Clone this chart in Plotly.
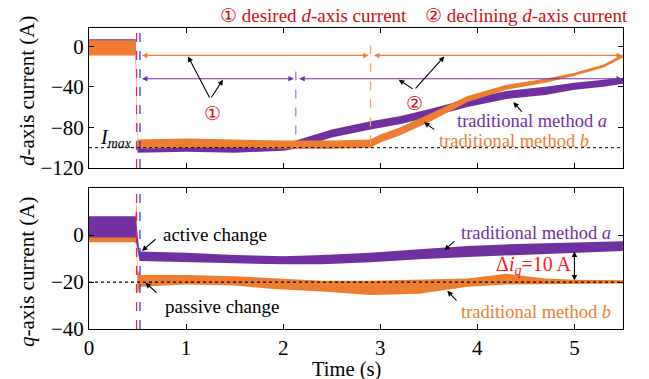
import plotly.graph_objects as go
from plotly.subplots import make_subplots

# ---------------- data ----------------
# d-axis current, traditional method a (purple) band: time, upper, lower
t_d_a = [0, 0.48, 0.50, 1.0, 1.5, 2.0, 2.13, 2.5, 2.9, 3.2, 3.5, 3.9, 4.3, 4.7, 5.0, 5.3, 5.5]
d_a_hi = [7, 7, -99, -98, -98, -96, -93, -82, -74, -69, -62, -52, -44, -40, -36, -33, -31]
d_a_lo = [-7, -7, -105, -104, -105, -103, -101, -90, -82, -77, -70, -60, -52, -48, -43, -40, -37]

# d-axis current, traditional method b (orange)
t_d_b = [0, 0.48, 0.50, 1.0, 1.5, 2.0, 2.5, 2.9, 3.0, 3.2, 3.5, 3.9, 4.3, 4.7, 5.0, 5.3, 5.5]
d_b_hi = [6, 6, -92, -91, -92, -93, -93, -92, -87, -80, -67, -49, -38, -32, -26, -18, -8]
d_b_lo = [-9, -9, -101, -100, -100, -101, -101, -100, -95, -88, -75, -55, -43, -36, -29, -21, -11]

# q-axis current, traditional method a (purple)
t_q_a = [0, 0.48, 0.52, 1.0, 1.5, 2.0, 2.4, 2.9, 3.4, 3.9, 4.4, 5.0, 5.5]
q_a_hi = [8, 8, -7, -7.5, -8.5, -9, -8.5, -7.5, -6, -4.7, -3.8, -3, -2.6]
q_a_lo = [-1, -1, -11, -11.5, -12, -12.4, -12.4, -11.6, -10.3, -9.3, -8.5, -7.5, -6.8]

# q-axis current, traditional method b (orange)
t_q_b = [0, 0.47, 0.49, 0.50, 0.53, 1.0, 1.5, 1.9, 2.4, 2.9, 3.4, 3.9, 4.3, 4.7, 5.0, 5.5]
q_b_hi = [5, 5, 14, -15, -17, -17, -17.5, -18.5, -19.5, -19.5, -19, -18.5, -16.5, -18.5, -19, -19.2]
q_b_lo = [-3, -3, -4, -25, -22, -21, -21.5, -23, -24, -25.5, -25, -22, -21, -21, -20.8, -20.6]

d_ticks = [0, -40, -80, -120]
q_ticks = [0, -20, -40]
t_ticks = [0, 1, 2, 3, 4, 5]

I_max = -100
iq_ref = -20
t_red = 0.49
t_blue = 0.525
t_a_switch = 2.13
t_b_switch = 2.9
y_b_arrow = -9
y_a_arrow = -32

PURPLE = "#7030a0"
ORANGE = "#ed7d31"
DRED = "#cc1010"
FONT = "Times New Roman, Liberation Serif, DejaVu Serif, serif"

# page body has an 8px margin: shrink the figure and offset margins accordingly
OFF = 8
W, H = 649 - OFF, 379 - OFF
ML, MR, MT, MB = 89 - OFF, 26, 28 - OFF, 50
PW, PH = W - ML - MR, H - MT - MB

fig = make_subplots(rows=2, cols=1, shared_xaxes=False, vertical_spacing=0.067)


def band(t, hi, lo, color, row):
    fig.add_trace(go.Scatter(x=list(t) + list(t[::-1]), y=list(hi) + list(lo[::-1]),
                             fill="toself", fillcolor=color, mode="lines",
                             line=dict(color=color, width=0), hoverinfo="skip",
                             showlegend=False), row=row, col=1)


band(t_d_a, d_a_hi, d_a_lo, PURPLE, 1)
band(t_d_b, d_b_hi, d_b_lo, ORANGE, 1)
band(t_q_b, q_b_hi, q_b_lo, ORANGE, 2)
band(t_q_a, q_a_hi, q_a_lo, PURPLE, 2)

axis_common = dict(showline=True, linecolor="black", linewidth=1, mirror="ticks",
                   ticks="inside", ticklen=5, tickcolor="black", showgrid=False,
                   zeroline=False, tickfont=dict(family=FONT, size=21, color="black"))

fig.update_xaxes(range=[0, 5.5], tickvals=t_ticks, **axis_common)
fig.update_xaxes(showticklabels=False, row=1, col=1)
fig.update_yaxes(**axis_common)
fig.update_yaxes(range=[-120, 18], tickvals=d_ticks, row=1, col=1)
fig.update_yaxes(range=[-40, 20], tickvals=q_ticks, row=2, col=1)

fig.update_layout(
    width=W, height=H, margin=dict(l=ML, r=MR, t=MT, b=MB, autoexpand=False),
    plot_bgcolor="white", paper_bgcolor="white", showlegend=False,
    font=dict(family=FONT, size=19, color="black"),
)
fig.update_layout(yaxis=dict(domain=[0.535, 1.0]), yaxis2=dict(domain=[0.0, 0.468]))

shapes = []
for yr in ["y domain", "y2 domain"]:
    xr = "x" if yr == "y domain" else "x2"
    shapes.append(dict(type="line", xref=xr, yref=yr, x0=t_red, x1=t_red, y0=0, y1=1,
                       line=dict(color="#ff2020", width=1.3, dash="dash")))
    shapes.append(dict(type="line", xref=xr, yref=yr, x0=t_blue, x1=t_blue, y0=0, y1=1,
                       line=dict(color="#1f3fff", width=1.3, dash="dash")))
shapes.append(dict(type="line", xref="x domain", yref="y", x0=0, x1=1, y0=I_max, y1=I_max,
                   line=dict(color="black", width=1, dash="dot")))
shapes.append(dict(type="line", xref="x2 domain", yref="y2", x0=0, x1=1, y0=iq_ref, y1=iq_ref,
                   line=dict(color="black", width=1.2, dash="dot")))
shapes.append(dict(type="line", xref="x", yref="y", x0=t_b_switch, x1=t_b_switch, y0=1, y1=-100,
                   line=dict(color="#f4a06a", width=1.3, dash="dash")))
shapes.append(dict(type="line", xref="x", yref="y", x0=t_a_switch, x1=t_a_switch, y0=-25, y1=-92,
                   line=dict(color="#a57fd0", width=1.3, dash="dash")))
fig.update_layout(shapes=shapes)

ann = []


def arrow(x, y, ax, ay, color="black", both=False, xr="x", yr="y", width=1.1, size=1.0):
    ann.append(dict(x=x, y=y, ax=ax, ay=ay, xref=xr, yref=yr, axref=xr, ayref=yr,
                    text="", showarrow=True, arrowhead=2, arrowsize=size, arrowwidth=width,
                    arrowcolor=color, arrowside="end+start" if both else "end"))


def text(x, y, s, color="black", xr="x", yr="y", size=19, xanchor="center"):
    ann.append(dict(x=x, y=y, xref=xr, yref=yr, text=s, showarrow=False,
                    font=dict(family=FONT, size=size, color=color), xanchor=xanchor,
                    yanchor="middle"))


arrow(t_b_switch - 0.02, y_b_arrow, 0.53, y_b_arrow, ORANGE, both=True)
arrow(5.49, y_b_arrow, t_b_switch + 0.02, y_b_arrow, ORANGE, both=True)
arrow(t_a_switch - 0.02, y_a_arrow, 0.53, y_a_arrow, PURPLE, both=True)
arrow(5.49, y_a_arrow, t_a_switch + 0.02, y_a_arrow, PURPLE, both=True)

arrow(1.02, -10, 1.25, -52)
arrow(1.38, -33, 1.25, -52)
text(1.27, -66, "①", DRED, size=19)
arrow(3.66, -10, 3.35, -43)
arrow(3.19, -33, 3.35, -43)
text(3.35, -56, "②", DRED, size=19)

text(0.46, -91, "<i>I</i><sub><i>max</i></sub>", xanchor="right", size=20)
text(4.56, -74, "traditional method <i>a</i>", PURPLE, size=18.5)
text(4.38, -93.5, "traditional method <i>b</i>", ORANGE, size=18.5)
arrow(4.37, -55, 4.47, -66)
arrow(3.45, -75, 3.57, -83)

text(1.3, 0.3, "active change", xr="x2", yr="y2")
arrow(0.545, -6.8, 0.70, -1.2, xr="x2", yr="y2")
text(1.37, -30.5, "passive change", xr="x2", yr="y2")
arrow(0.58, -20.3, 0.71, -25, xr="x2", yr="y2")
text(4.6, 1.0, "traditional method <i>a</i>", PURPLE, xr="x2", yr="y2", size=18.5)
arrow(3.66, -6.5, 3.78, -2, xr="x2", yr="y2")
text(4.6, -32.7, "traditional method <i>b</i>", ORANGE, xr="x2", yr="y2", size=18.5)
arrow(3.69, -23.7, 3.80, -28.6, xr="x2", yr="y2")
text(4.58, -12.9, "Δ<i>i</i><sub><i>q</i></sub>=10 A", "#ff1a1a", xr="x2", yr="y2", size=20)
arrow(5.0, -19.3, 5.0, -6.3, both=True, xr="x2", yr="y2")


# helpers: target-picture pixel -> paper coordinates
def px_x(px):
    return (px - 89) / PW


def px_y(py):
    return (329 - py) / PH


def ptext(px, py, s, size, color="black", xanchor="center", angle=0):
    ann.append(dict(x=px_x(px), y=px_y(py), xref="paper", yref="paper", showarrow=False,
                    text=s, xanchor=xanchor, yanchor="middle", textangle=angle,
                    font=dict(family=FONT, size=size, color=color)))


ptext(218, 16, "① desired <i>d</i>-axis current", 19, DRED, xanchor="left")
ptext(423, 16, "② declining <i>d</i>-axis current", 19, DRED, xanchor="left")
ptext(27, 91, "<i>d</i>-axis current (A)", 21, angle=-90)
ptext(27, 272, "<i>q</i>-axis current (A)", 21, angle=-90)
ptext(346, 369, "Time (s)", 20.5)

fig.update_layout(annotations=ann)
fig.write_html("out.html")
